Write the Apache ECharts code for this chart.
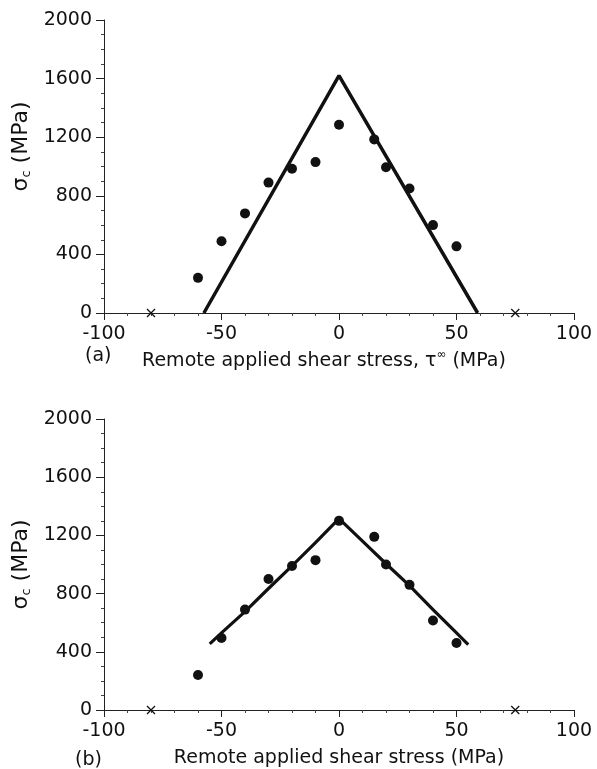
<!DOCTYPE html>
<html>
<head>
<meta charset="utf-8">
<script src="https://cdn.jsdelivr.net/npm/echarts@6/dist/echarts.min.js"></script>
<style>
  html, body { margin: 0; padding: 0; background: #fff; }
  #chart { width: 597px; height: 769px; }
</style>
</head>
<body>
<div id="chart"></div>
<script>
// measured points (same specimens in both panels)
const shear = [-60, -50, -40, -30, -20, -10, 0, 15, 20, 30, 40, 50]
const sigmaA = [240, 490, 680, 890, 985, 1030, 1285, 1185, 995, 850, 600, 455]
const sigmaB = [240, 495, 690, 900, 990, 1030, 1300, 1190, 1000, 860, 615, 460]

// (a) straight-line prediction
const lineAX = [-57.5, 0, 59]
const lineAY = [0, 1620, 0]

// (b) fitted curve
const curveBX = [-55, -50, -40, -30, -20, -10, 0, 10, 20, 30, 40, 50, 55]
const curveBY = [455, 530, 676, 835, 990, 1150, 1315, 1160, 1005, 855, 690, 530, 450]

// crosses on the zero line
const crossX = [-80, 75]

const xTicks = [-100, -50, 0, 50, 100]
const yTicks = [0, 400, 800, 1200, 1600, 2000]

const ink = '#111'
const font = 'DejaVu Sans'

const zip = (xs, ys) => xs.map((x, i) => [x, ys[i]])

const xAxisBase = (gridIndex, name, padRight, gap) => ({
  type: 'value',
  gridIndex,
  min: xTicks[0],
  max: xTicks[xTicks.length - 1],
  interval: 50,
  name,
  nameLocation: 'middle',
  nameGap: gap,
  nameTextStyle: {
    color: ink,
    fontFamily: font,
    fontSize: 19,
    padding: [0, padRight, 0, 0],
    rich: {
      t: { color: ink, fontFamily: font, fontSize: 19 },
      sup: { color: ink, fontFamily: font, fontSize: 12, padding: [0, 0, 12, 0] }
    }
  },
  axisLine: { show: true, onZero: false, lineStyle: { color: '#222', width: 1 } },
  axisTick: { show: true, length: 7, lineStyle: { color: '#222' } },
  minorTick: { show: true, splitNumber: 5, length: 3, lineStyle: { color: '#444' } },
  splitLine: { show: false },
  axisLabel: { color: ink, fontFamily: font, fontSize: 19, margin: 12 },
})

const yAxisBase = (gridIndex, padLeft) => ({
  type: 'value',
  gridIndex,
  min: yTicks[0],
  max: yTicks[yTicks.length - 1],
  interval: 400,
  name: '{s|σ}{sub|c} (MPa)',
  nameLocation: 'middle',
  nameGap: 56,
  nameTextStyle: {
    color: ink,
    fontFamily: font,
    fontSize: 22,
    padding: [0, 0, 0, padLeft],
    rich: {
      s: { color: ink, fontFamily: font, fontSize: 22 },
      sub: { color: ink, fontFamily: font, fontSize: 13, padding: [10, 0, 0, 0] }
    }
  },
  axisLine: { show: true, onZero: false, lineStyle: { color: '#222', width: 1 } },
  axisTick: { show: true, length: 8, lineStyle: { color: '#222' } },
  minorTick: { show: true, splitNumber: 4, length: 3, lineStyle: { color: '#444' } },
  splitLine: { show: false },
  axisLabel: { color: ink, fontFamily: font, fontSize: 19, margin: 12, formatter: v => String(v) },
})

const dots = (idx, ys) => ({
  type: 'scatter',
  xAxisIndex: idx,
  yAxisIndex: idx,
  data: zip(shear, ys),
  symbol: 'circle',
  symbolSize: 10,
  itemStyle: { color: ink, opacity: 1 },
  z: 3
})

const crosses = idx => ({
  type: 'scatter',
  xAxisIndex: idx,
  yAxisIndex: idx,
  data: crossX.map(x => [x, 0]),
  symbol: 'path://M0,0L10,10M10,0L0,10',
  symbolSize: 8,
  itemStyle: { color: 'transparent', borderColor: ink, borderWidth: 1.3, opacity: 1 },
  z: 4
})

const chart = echarts.init(document.getElementById('chart'), null, { renderer: 'canvas' })

chart.setOption({
  backgroundColor: '#fff',
  animation: false,
  grid: [
    { left: 104, top: 20, width: 470, height: 293 },
    { left: 104, top: 419, width: 470, height: 291 }
  ],
  xAxis: [
    xAxisBase(0, '{t|Remote applied shear stress, τ}{sup|∞}{t| (MPa)}', 30, 36),
    xAxisBase(1, 'Remote applied shear stress (MPa)', 0, 39)
  ],
  yAxis: [yAxisBase(0, 40), yAxisBase(1, 0)],
  graphic: [
    { type: 'text', left: 85, top: 347, style: { text: '(a)', fill: ink, font: '19px "DejaVu Sans"' } },
    { type: 'text', left: 75, top: 751, style: { text: '(b)', fill: ink, font: '19px "DejaVu Sans"' } }
  ],
  series: [
    {
      type: 'line',
      xAxisIndex: 0,
      yAxisIndex: 0,
      data: zip(lineAX, lineAY),
      showSymbol: false,
      lineStyle: { color: ink, width: 3.5 },
      z: 2
    },
    dots(0, sigmaA),
    crosses(0),
    {
      type: 'line',
      xAxisIndex: 1,
      yAxisIndex: 1,
      data: zip(curveBX, curveBY),
      showSymbol: false,
      lineStyle: { color: ink, width: 3.2, join: 'round' },
      z: 2
    },
    dots(1, sigmaB),
    crosses(1)
  ]
})
</script>
</body>
</html>
